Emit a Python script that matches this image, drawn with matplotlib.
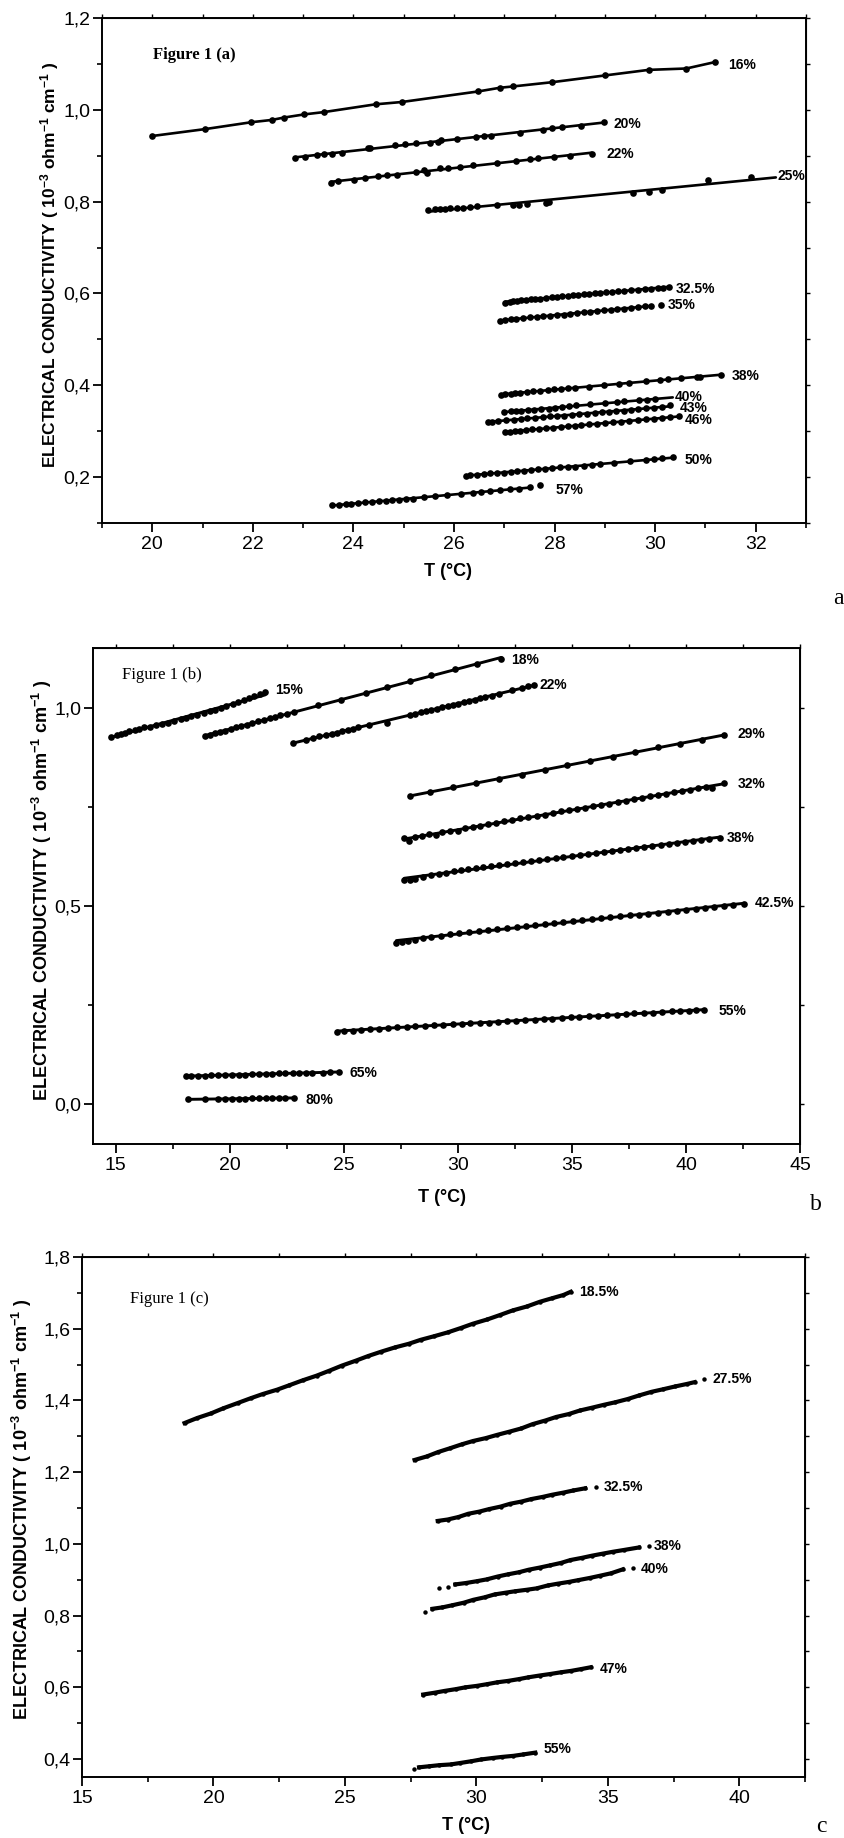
import numpy as np
import matplotlib
matplotlib.use('Agg')
import matplotlib.pyplot as plt
from matplotlib.ticker import MultipleLocator, FuncFormatter, NullFormatter
from matplotlib import font_manager as fm

# ---------------- Panel (a) data ----------------
A16_x = [20.0, 21.05, 21.97, 22.38, 22.61, 23.02, 23.41, 24.44, 24.96, 26.48, 26.91, 27.18, 27.94, 29.01, 29.87, 30.62, 31.19]
A16_y = [0.943, 0.958, 0.973, 0.978, 0.983, 0.990, 0.995, 1.012, 1.017, 1.040, 1.048, 1.051, 1.060, 1.075, 1.087, 1.090, 1.104]
A20_x = [22.83, 23.04, 23.28, 23.42, 23.58, 23.77, 24.28, 24.33, 24.82, 25.03, 25.25, 25.52, 25.68, 25.75, 26.05, 26.43, 26.59, 26.73, 27.32, 27.77, 27.94, 28.15, 28.53, 28.98]
A20_y = [0.896, 0.898, 0.902, 0.903, 0.904, 0.907, 0.916, 0.917, 0.923, 0.925, 0.927, 0.927, 0.930, 0.934, 0.936, 0.940, 0.943, 0.944, 0.950, 0.957, 0.961, 0.963, 0.965, 0.973]
A22_x = [23.55, 23.69, 24.01, 24.23, 24.49, 24.66, 24.87, 25.25, 25.41, 25.46, 25.73, 25.89, 26.11, 26.38, 26.86, 27.24, 27.51, 27.67, 27.99, 28.31, 28.74]
A22_y = [0.840, 0.845, 0.848, 0.852, 0.855, 0.857, 0.858, 0.865, 0.868, 0.862, 0.873, 0.874, 0.876, 0.879, 0.884, 0.889, 0.892, 0.894, 0.897, 0.900, 0.904]
A25_x = [25.49, 25.62, 25.73, 25.82, 25.92, 26.05, 26.18, 26.32, 26.46, 26.86, 27.18, 27.29, 27.45, 27.83, 27.88, 29.55, 29.87, 30.14, 31.05, 31.91]
A25_y = [0.781, 0.783, 0.783, 0.784, 0.786, 0.786, 0.787, 0.789, 0.790, 0.792, 0.793, 0.792, 0.794, 0.798, 0.800, 0.819, 0.821, 0.826, 0.847, 0.853]
A325_x = [27.02, 27.11, 27.18, 27.26, 27.34, 27.43, 27.53, 27.61, 27.72, 27.83, 27.94, 28.04, 28.15, 28.26, 28.37, 28.47, 28.58, 28.69, 28.80, 28.90,
          29.03, 29.14, 29.26, 29.39, 29.52, 29.66, 29.80, 29.92, 30.05, 30.16, 30.28]
A325_y = [0.580, 0.582, 0.584, 0.584, 0.585, 0.586, 0.587, 0.588, 0.589, 0.590, 0.592, 0.593, 0.594, 0.595, 0.597, 0.597, 0.598, 0.599, 0.600, 0.601,
          0.603, 0.603, 0.605, 0.606, 0.607, 0.608, 0.609, 0.610, 0.611, 0.612, 0.615]
A35_x = [26.91, 27.02, 27.13, 27.24, 27.37, 27.51, 27.65, 27.77, 27.90, 28.04, 28.18, 28.31, 28.44, 28.58, 28.71, 28.85, 28.98, 29.12, 29.25, 29.39,
         29.52, 29.66, 29.79, 29.92, 30.12]
A35_y = [0.541, 0.542, 0.544, 0.545, 0.546, 0.548, 0.549, 0.550, 0.551, 0.553, 0.554, 0.556, 0.558, 0.559, 0.560, 0.562, 0.563, 0.565, 0.566, 0.567,
         0.568, 0.570, 0.572, 0.573, 0.575]
A38_x = [26.94, 27.02, 27.13, 27.22, 27.32, 27.45, 27.58, 27.72, 27.86, 27.99, 28.12, 28.26, 28.40, 28.69, 28.98, 29.28, 29.49, 29.82, 30.09, 30.25,
         30.52, 30.84, 30.90, 31.30]
A38_y = [0.379, 0.381, 0.382, 0.383, 0.384, 0.386, 0.387, 0.388, 0.389, 0.391, 0.392, 0.393, 0.394, 0.397, 0.400, 0.403, 0.405, 0.409, 0.411, 0.413,
         0.415, 0.418, 0.419, 0.423]
A40_x = [26.99, 27.13, 27.24, 27.34, 27.47, 27.60, 27.74, 27.88, 28.01, 28.14, 28.28, 28.42, 28.71, 29.00, 29.25, 29.39, 29.68, 29.84, 30.00]
A40_y = [0.342, 0.343, 0.344, 0.345, 0.346, 0.347, 0.348, 0.349, 0.351, 0.352, 0.355, 0.356, 0.359, 0.361, 0.363, 0.365, 0.367, 0.368, 0.370]
A43_x = [26.68, 26.76, 26.87, 27.03, 27.19, 27.33, 27.46, 27.62, 27.76, 27.91, 28.05, 28.19, 28.34, 28.48, 28.64, 28.80, 28.94, 29.09, 29.23, 29.39,
         29.52, 29.66, 29.82, 29.98, 30.14, 30.30]
A43_y = [0.321, 0.321, 0.322, 0.324, 0.325, 0.327, 0.328, 0.329, 0.330, 0.332, 0.333, 0.334, 0.336, 0.337, 0.338, 0.340, 0.341, 0.342, 0.344, 0.345,
         0.347, 0.348, 0.350, 0.351, 0.353, 0.356]
A46_x = [27.02, 27.11, 27.22, 27.32, 27.43, 27.56, 27.69, 27.83, 27.97, 28.12, 28.26, 28.40, 28.53, 28.69, 28.85, 29.01, 29.17, 29.33, 29.49, 29.66,
         29.82, 29.98, 30.14, 30.30, 30.48]
A46_y = [0.298, 0.298, 0.300, 0.301, 0.302, 0.304, 0.305, 0.306, 0.308, 0.309, 0.311, 0.312, 0.313, 0.315, 0.316, 0.318, 0.319, 0.321, 0.322, 0.324,
         0.326, 0.327, 0.329, 0.330, 0.332]
A50_x = [26.23, 26.32, 26.46, 26.59, 26.72, 26.86, 27.00, 27.13, 27.26, 27.40, 27.54, 27.67, 27.80, 27.94, 28.10, 28.26, 28.40, 28.58, 28.75, 28.91,
         29.18, 29.50, 29.82, 29.98, 30.14, 30.35]
A50_y = [0.203, 0.204, 0.205, 0.207, 0.208, 0.209, 0.210, 0.212, 0.213, 0.214, 0.216, 0.217, 0.218, 0.219, 0.221, 0.222, 0.223, 0.225, 0.227, 0.228,
         0.231, 0.234, 0.237, 0.239, 0.241, 0.243]
A57_x = [23.58, 23.71, 23.85, 23.96, 24.10, 24.23, 24.36, 24.50, 24.64, 24.77, 24.90, 25.04, 25.18, 25.41, 25.63, 25.86, 26.14, 26.38, 26.54, 26.72,
         26.92, 27.11, 27.29, 27.51, 27.72]
A57_y = [0.139, 0.140, 0.141, 0.142, 0.144, 0.145, 0.146, 0.147, 0.149, 0.150, 0.151, 0.152, 0.153, 0.156, 0.158, 0.160, 0.163, 0.165, 0.167, 0.169,
         0.171, 0.173, 0.175, 0.178, 0.182]

# ---------------- Panel (b) data ----------------
B15_x = [14.81, 15.07, 15.24, 15.40, 15.59, 15.83, 16.02, 16.25, 16.49, 16.77, 17.01, 17.29, 17.53, 17.84, 18.07, 18.31, 18.55, 18.85, 19.14, 19.37,
         19.61, 19.85, 20.13, 20.37, 20.60, 20.84, 21.08, 21.31, 21.55]
B15_y = [0.926, 0.931, 0.934, 0.937, 0.940, 0.944, 0.947, 0.950, 0.952, 0.955, 0.959, 0.962, 0.966, 0.970, 0.974, 0.978, 0.982, 0.986, 0.990, 0.994,
         0.998, 1.003, 1.008, 1.013, 1.018, 1.023, 1.028, 1.033, 1.038]
B18_x = [18.90, 19.14, 19.33, 19.56, 19.80, 20.04, 20.27, 20.51, 20.74, 20.98, 21.22, 21.50, 21.74, 21.98, 22.21, 22.50, 22.81, 23.87, 24.86, 25.95,
         26.90, 27.89, 28.84, 29.86, 30.85, 31.91]
B18_y = [0.928, 0.932, 0.935, 0.938, 0.942, 0.946, 0.950, 0.953, 0.957, 0.961, 0.965, 0.969, 0.973, 0.976, 0.980, 0.984, 0.989, 1.006, 1.018, 1.036,
         1.051, 1.066, 1.083, 1.096, 1.109, 1.123]
B22_x = [22.76, 23.35, 23.63, 23.92, 24.22, 24.46, 24.70, 24.93, 25.17, 25.41, 25.64, 26.12, 26.90, 27.89, 28.13, 28.36, 28.60, 28.84, 29.07, 29.31,
         29.55, 29.78, 30.02, 30.26, 30.49, 30.73, 30.97, 31.20, 31.49, 31.79, 32.38, 32.81, 33.09, 33.33]
B22_y = [0.911, 0.919, 0.923, 0.927, 0.930, 0.934, 0.937, 0.940, 0.944, 0.947, 0.950, 0.956, 0.961, 0.981, 0.984, 0.988, 0.991, 0.994, 0.997, 1.001,
         1.004, 1.007, 1.010, 1.014, 1.017, 1.020, 1.023, 1.027, 1.030, 1.035, 1.043, 1.048, 1.053, 1.058]
B29_x = [27.89, 28.77, 29.78, 30.78, 31.79, 32.79, 33.80, 34.80, 35.81, 36.81, 37.78, 38.77, 39.72, 40.71, 41.66]
B29_y = [0.776, 0.786, 0.800, 0.811, 0.819, 0.831, 0.842, 0.856, 0.866, 0.876, 0.889, 0.900, 0.908, 0.918, 0.931]
B32_x = [27.65, 27.84, 28.13, 28.41, 28.72, 29.03, 29.31, 29.66, 30.02, 30.30, 30.68, 30.97, 31.32, 31.67, 32.03, 32.38, 32.74, 33.09, 33.45, 33.80,
         34.16, 34.51, 34.87, 35.22, 35.58, 35.93, 36.29, 36.64, 37.00, 37.35, 37.71, 38.06, 38.42, 38.77, 39.12, 39.48, 39.83, 40.19, 40.54, 40.90,
         41.13, 41.66]
B32_y = [0.670, 0.664, 0.674, 0.677, 0.681, 0.678, 0.686, 0.690, 0.688, 0.696, 0.699, 0.702, 0.706, 0.709, 0.713, 0.717, 0.721, 0.723, 0.727, 0.730,
         0.734, 0.738, 0.741, 0.745, 0.748, 0.752, 0.755, 0.758, 0.762, 0.765, 0.769, 0.772, 0.776, 0.779, 0.783, 0.786, 0.790, 0.793, 0.797, 0.800,
         0.796, 0.809]
B38_x = [27.65, 27.89, 28.13, 28.48, 28.84, 29.19, 29.50, 29.83, 30.14, 30.44, 30.78, 31.08, 31.44, 31.79, 32.15, 32.50, 32.86, 33.21, 33.57, 33.92,
         34.28, 34.63, 34.99, 35.34, 35.70, 36.05, 36.40, 36.76, 37.11, 37.47, 37.82, 38.18, 38.53, 38.89, 39.24, 39.60, 39.95, 40.31, 40.66, 41.02,
         41.49]
B38_y = [0.565, 0.566, 0.568, 0.573, 0.578, 0.581, 0.584, 0.587, 0.590, 0.592, 0.595, 0.598, 0.600, 0.603, 0.606, 0.608, 0.611, 0.613, 0.616, 0.618,
         0.621, 0.623, 0.626, 0.628, 0.631, 0.633, 0.636, 0.638, 0.641, 0.643, 0.646, 0.648, 0.651, 0.653, 0.656, 0.658, 0.661, 0.663, 0.666, 0.668,
         0.672]
B425_x = [27.30, 27.53, 27.82, 28.13, 28.48, 28.84, 29.26, 29.66, 30.07, 30.49, 30.92, 31.32, 31.72, 32.15, 32.57, 32.98, 33.38, 33.80, 34.23, 34.63,
          35.04, 35.46, 35.89, 36.29, 36.69, 37.11, 37.54, 37.94, 38.34, 38.77, 39.20, 39.60, 40.00, 40.43, 40.85, 41.25, 41.66, 42.08, 42.55]
B425_y = [0.407, 0.409, 0.411, 0.414, 0.418, 0.422, 0.425, 0.428, 0.431, 0.434, 0.437, 0.440, 0.442, 0.445, 0.448, 0.450, 0.453, 0.455, 0.458, 0.460,
          0.462, 0.465, 0.467, 0.469, 0.471, 0.474, 0.476, 0.478, 0.480, 0.483, 0.485, 0.487, 0.490, 0.492, 0.495, 0.497, 0.499, 0.502, 0.505]
B55_x = [24.70, 25.02, 25.38, 25.76, 26.13, 26.55, 26.93, 27.33, 27.76, 28.14, 28.57, 28.96, 29.33, 29.77, 30.16, 30.54, 30.97, 31.36, 31.74, 32.17,
         32.56, 32.93, 33.37, 33.76, 34.14, 34.57, 34.96, 35.33, 35.77, 36.16, 36.54, 36.97, 37.36, 37.74, 38.17, 38.56, 38.93, 39.37, 39.76, 40.12,
         40.45, 40.78]
B55_y = [0.183, 0.185, 0.186, 0.188, 0.189, 0.191, 0.193, 0.194, 0.196, 0.197, 0.198, 0.200, 0.201, 0.202, 0.203, 0.204, 0.205, 0.206, 0.207, 0.209,
         0.210, 0.212, 0.213, 0.215, 0.216, 0.218, 0.219, 0.220, 0.222, 0.223, 0.225, 0.226, 0.227, 0.229, 0.230, 0.231, 0.233, 0.234, 0.235, 0.236,
         0.237, 0.238]
B65_x = [18.07, 18.30, 18.61, 18.89, 19.18, 19.48, 19.79, 20.08, 20.38, 20.66, 20.97, 21.26, 21.57, 21.85, 22.16, 22.44, 22.75, 23.04, 23.34, 23.62,
         24.10, 24.38, 24.77]
B65_y = [0.071, 0.071, 0.072, 0.072, 0.073, 0.073, 0.074, 0.074, 0.075, 0.075, 0.076, 0.076, 0.077, 0.077, 0.078, 0.078, 0.078, 0.079, 0.079, 0.080,
         0.080, 0.081, 0.081]
B80_x = [18.15, 18.90, 19.49, 19.79, 20.08, 20.38, 20.66, 20.97, 21.26, 21.57, 21.85, 22.16, 22.44, 22.81]
B80_y = [0.013, 0.013, 0.013, 0.014, 0.014, 0.014, 0.014, 0.015, 0.015, 0.015, 0.015, 0.016, 0.016, 0.016]

# ---------------- Panel (c) data ----------------
C185_x = [18.90, 19.38, 19.91, 20.37, 20.93, 21.41, 21.88, 22.42, 22.87, 23.39, 23.92, 24.41, 24.88, 25.42, 25.89, 26.38, 26.91, 27.43, 27.88, 28.39,
          28.92, 29.41, 29.87, 30.42, 30.89, 31.38, 31.92, 32.41, 32.88, 33.31, 33.59]
C185_y = [1.337, 1.351, 1.364, 1.378, 1.393, 1.406, 1.418, 1.430, 1.442, 1.456, 1.469, 1.483, 1.497, 1.511, 1.524, 1.536, 1.548, 1.558, 1.569, 1.579,
          1.590, 1.602, 1.614, 1.626, 1.638, 1.651, 1.662, 1.675, 1.685, 1.694, 1.703]
C275_x = [27.65, 28.12, 28.54, 29.01, 29.46, 29.88, 30.36, 30.79, 31.26, 31.71, 32.14, 32.62, 33.04, 33.51, 33.94, 34.41, 34.86, 35.29, 35.76, 36.19,
          36.66, 37.09, 37.56, 38.01, 38.30, 38.65]
C275_y = [1.234, 1.244, 1.256, 1.267, 1.278, 1.287, 1.295, 1.304, 1.313, 1.322, 1.334, 1.344, 1.354, 1.362, 1.372, 1.380, 1.388, 1.395, 1.404, 1.414,
          1.424, 1.431, 1.439, 1.446, 1.451, 1.459]
C325_x = [28.53, 28.91, 29.32, 29.69, 30.11, 30.48, 30.92, 31.29, 31.71, 32.09, 32.52, 32.88, 33.31, 33.69, 34.14, 34.55]
C325_y = [1.064, 1.068, 1.075, 1.084, 1.090, 1.097, 1.104, 1.112, 1.118, 1.125, 1.131, 1.137, 1.143, 1.149, 1.155, 1.160]
C38_x = [28.59, 28.94, 29.20, 29.61, 30.02, 30.39, 30.81, 31.19, 31.62, 31.99, 32.41, 32.79, 33.22, 33.58, 34.01, 34.39, 34.82, 35.19, 35.61, 36.18, 36.55]
C38_y = [0.876, 0.879, 0.887, 0.891, 0.896, 0.901, 0.909, 0.915, 0.921, 0.928, 0.934, 0.940, 0.947, 0.955, 0.961, 0.967, 0.973, 0.978, 0.983, 0.990, 0.993]
C40_x = [28.06, 28.33, 28.71, 29.09, 29.52, 29.88, 30.31, 30.69, 31.12, 31.48, 31.91, 32.29, 32.71, 33.09, 33.52, 33.88, 34.31, 34.69, 35.12, 35.57, 35.94]
C40_y = [0.811, 0.819, 0.823, 0.829, 0.836, 0.844, 0.851, 0.859, 0.864, 0.868, 0.872, 0.876, 0.884, 0.889, 0.894, 0.899, 0.905, 0.911, 0.918, 0.929, 0.933]
C47_x = [27.98, 28.41, 28.79, 29.22, 29.58, 30.01, 30.42, 30.79, 31.21, 31.62, 31.98, 32.41, 32.79, 33.22, 33.61, 33.99, 34.35]
C47_y = [0.580, 0.585, 0.590, 0.595, 0.600, 0.604, 0.609, 0.614, 0.618, 0.623, 0.628, 0.633, 0.637, 0.642, 0.646, 0.651, 0.656]
C55_x = [27.61, 27.82, 28.21, 28.59, 29.02, 29.38, 29.81, 30.19, 30.62, 30.98, 31.41, 31.79, 32.24]
C55_y = [0.373, 0.377, 0.380, 0.383, 0.385, 0.389, 0.394, 0.399, 0.403, 0.406, 0.409, 0.413, 0.418]

# series tables
series_a = [('16%', A16_x, A16_y), ('20%', A20_x, A20_y), ('22%', A22_x, A22_y), ('25%', A25_x, A25_y),
            ('32.5%', A325_x, A325_y), ('35%', A35_x, A35_y), ('38%', A38_x, A38_y), ('40%', A40_x, A40_y),
            ('43%', A43_x, A43_y), ('46%', A46_x, A46_y), ('50%', A50_x, A50_y), ('57%', A57_x, A57_y)]
series_b = [('15%', B15_x, B15_y), ('18%', B18_x, B18_y), ('22%', B22_x, B22_y), ('29%', B29_x, B29_y),
            ('32%', B32_x, B32_y), ('38%', B38_x, B38_y), ('42.5%', B425_x, B425_y), ('55%', B55_x, B55_y),
            ('65%', B65_x, B65_y), ('80%', B80_x, B80_y)]
series_c = [('18.5%', C185_x, C185_y), ('27.5%', C275_x, C275_y), ('32.5%', C325_x, C325_y), ('38%', C38_x, C38_y),
            ('40%', C40_x, C40_y), ('47%', C47_x, C47_y), ('55%', C55_x, C55_y)]

# regression line extents (where they differ from the data range)
line_end_a = {'25%': 32.4, '35%': 29.92, '40%': 30.35, '57%': 27.51}
connect_a = {'16%'}
# detached leading / trailing points in panel (c)
detached_c = {'27.5%': (0, 1), '32.5%': (0, 1), '38%': (2, 1), '40%': (1, 1), '55%': (1, 0)}

label_pos_a = {'16%': (31.45, 1.098), '20%': (29.17, 0.969), '22%': (29.04, 0.904), '25%': (32.43, 0.855),
               '32.5%': (30.41, 0.609), '35%': (30.25, 0.575), '38%': (31.52, 0.421), '40%': (30.39, 0.375),
               '43%': (30.48, 0.350), '46%': (30.59, 0.325), '50%': (30.59, 0.238), '57%': (28.01, 0.172)}
label_pos_b = {'15%': (21.98, 1.043), '18%': (32.34, 1.121), '22%': (33.57, 1.058), '29%': (42.25, 0.934),
               '32%': (42.25, 0.806), '38%': (41.77, 0.671), '42.5%': (43.03, 0.507), '55%': (41.44, 0.236),
               '65%': (25.24, 0.080), '80%': (23.30, 0.010)}
label_pos_c = {'18.5%': (33.90, 1.703), '27.5%': (39.0, 1.459), '32.5%': (34.86, 1.160), '38%': (36.76, 0.993),
               '40%': (36.24, 0.930), '47%': (34.69, 0.652), '55%': (32.55, 0.428)}

# ---------------- figure ----------------
W, H = 845, 1838
avail = {f.name for f in fm.fontManager.ttflist}
NARROW = 'Liberation Sans Narrow' if 'Liberation Sans Narrow' in avail else 'Liberation Sans'
SANS = 'Liberation Sans'
SERIF = 'Liberation Serif'

plt.rcParams['font.family'] = [SANS, 'DejaVu Sans']
plt.rcParams['mathtext.fontset'] = 'custom'
plt.rcParams['mathtext.rm'] = 'Liberation Sans:bold'
plt.rcParams['mathtext.default'] = 'rm'

fig = plt.figure(figsize=(W / 100, H / 100), dpi=100)


def add_axes(l, t, r, b):
    return fig.add_axes([l / W, 1 - b / H, (r - l) / W, (b - t) / H])


def comma_fmt(v, pos):
    if abs(v) < 1e-9:
        v = 0.0
    return f'{v:.1f}'.replace('.', ',')


def style_axes(ax, xlim, ylim, xmaj, xmin, ymaj, ymin):
    ax.set_xlim(*xlim)
    ax.set_ylim(*ylim)
    ax.xaxis.set_major_locator(MultipleLocator(xmaj))
    ax.xaxis.set_minor_locator(MultipleLocator(xmin))
    ax.yaxis.set_major_locator(MultipleLocator(ymaj))
    ax.yaxis.set_minor_locator(MultipleLocator(ymin))
    ax.yaxis.set_major_formatter(FuncFormatter(comma_fmt))
    ax.xaxis.set_major_formatter(FuncFormatter(lambda v, p: f'{v:.0f}'))
    for s in ax.spines.values():
        s.set_linewidth(1.4)
    ax.tick_params(which='major', direction='out', length=6.5, width=1.3,
                   labelsize=14, labelfontfamily=NARROW)
    ax.tick_params(which='minor', direction='out', length=3.5, width=1.2)
    ax.tick_params(axis='x', pad=3)
    ax.tick_params(axis='y', pad=2)
    top = ax.secondary_xaxis('top')
    top.xaxis.set_major_locator(MultipleLocator(xmaj))
    top.xaxis.set_minor_locator(MultipleLocator(xmin))
    top.xaxis.set_major_formatter(NullFormatter())
    top.tick_params(which='both', direction='out', length=3, width=1.0)
    right = ax.secondary_yaxis('right')
    right.yaxis.set_major_locator(MultipleLocator(ymaj))
    right.yaxis.set_minor_locator(MultipleLocator(ymin))
    right.yaxis.set_major_formatter(NullFormatter())
    right.tick_params(which='both', direction='out', length=3, width=1.0)


def fit_line(ax, x, y, x0, x1, lw):
    coef = np.polyfit(x, y, 1)
    xs = np.array([x0, x1])
    ax.plot(xs, np.polyval(coef, xs), color='black', lw=lw, solid_capstyle='round', zorder=2)


def series_label(ax, text, pos):
    ax.text(pos[0], pos[1], text, ha='left', va='center', fontsize=10, fontweight='bold',
            family=SANS, clip_on=False)


YLAB = 'ELECTRICAL CONDUCTIVITY ( 10$^{-3}$ ohm$^{-1}$ cm$^{-1}$ )'

# ---- Panel (a)
axa = add_axes(102, 18, 806, 523)
style_axes(axa, (19, 33), (0.1, 1.2), 2, 1, 0.2, 0.1)
for name, x, y in series_a:
    x = np.asarray(x); y = np.asarray(y)
    if name in connect_a:
        axa.plot(x, y, color='black', lw=1.9, zorder=2)
    else:
        fit_line(axa, x, y, x.min(), line_end_a.get(name, x.max()), 1.9)
    axa.plot(x, y, 'o', color='black', ms=4.8, mew=0, zorder=3)
    series_label(axa, name, label_pos_a[name])

# ---- Panel (b)
axb = add_axes(93, 648, 800, 1144)
style_axes(axb, (14, 45), (-0.1, 1.15), 5, 2.5, 0.5, 0.25)
for name, x, y in series_b:
    x = np.asarray(x); y = np.asarray(y)
    fit_line(axb, x, y, x.min(), x.max(), 2.1)
    axb.plot(x, y, 'o', color='black', ms=4.8, mew=0, zorder=3)
    series_label(axb, name, label_pos_b[name])

# ---- Panel (c)
axc = add_axes(82, 1257, 805, 1777)
style_axes(axc, (15, 42.5), (0.35, 1.8), 5, 2.5, 0.2, 0.1)
for name, x, y in series_c:
    x = np.asarray(x); y = np.asarray(y)
    h, t = detached_c.get(name, (0, 0))
    xl = x[h:len(x) - t]
    yl = y[h:len(y) - t]
    axc.plot(xl, yl, '-', color='black', lw=3.0, zorder=2)
    axc.plot(x, y, 'o', color='black', ms=3.2, mew=0, zorder=3)
    series_label(axc, name, label_pos_c[name])

# ---- texts
def ftext(px, py, s, **kw):
    fig.text(px / W, 1 - py / H, s, **kw)

ftext(50, 265, YLAB, rotation=90, ha='center', va='center', fontsize=12.5, fontweight='bold')
ftext(42, 890, YLAB, rotation=90, ha='center', va='center', fontsize=13, fontweight='bold')
ftext(22, 1509, YLAB, rotation=90, ha='center', va='center', fontsize=13, fontweight='bold')

ftext(448, 572, 'T (°C)', ha='center', va='center', fontsize=13, fontweight='bold')
ftext(442, 1197, 'T (°C)', ha='center', va='center', fontsize=13, fontweight='bold')
ftext(466, 1826, 'T (°C)', ha='center', va='center', fontsize=13, fontweight='bold')

ftext(838, 598, 'a', ha='center', va='center', fontsize=17, family=SERIF)
ftext(816, 1205, 'b', ha='center', va='center', fontsize=17, family=SERIF)
ftext(821, 1826, 'c', ha='center', va='center', fontsize=17, family=SERIF)

ftext(153, 55, 'Figure 1 (a)', ha='left', va='center', fontsize=12, family=SERIF, fontweight='bold')
ftext(122, 675, 'Figure 1 (b)', ha='left', va='center', fontsize=12, family=SERIF)
ftext(130, 1299, 'Figure 1 (c)', ha='left', va='center', fontsize=12, family=SERIF)

fig.savefig('out.png', dpi=100)
